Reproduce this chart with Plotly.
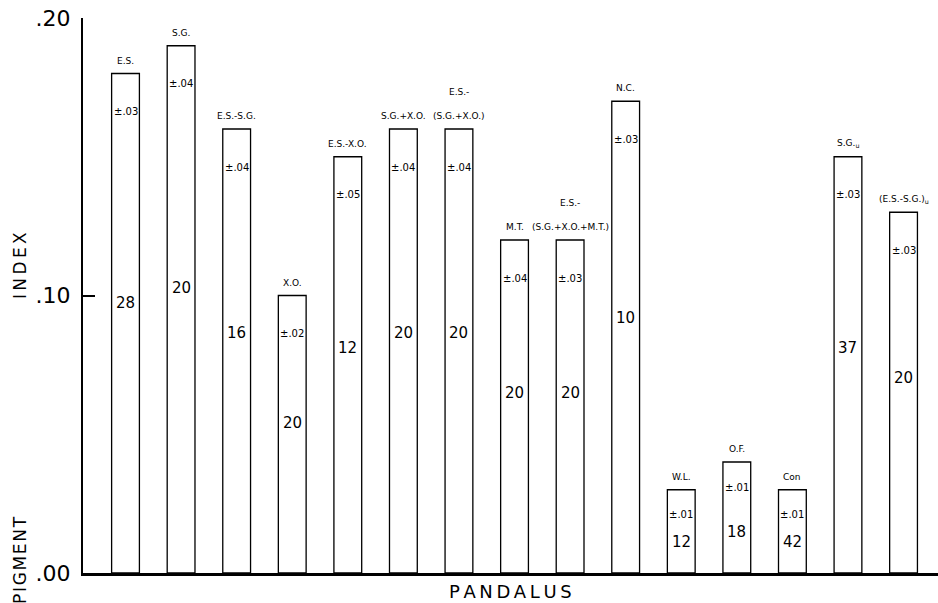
import plotly.graph_objects as go

# ---- data ----
labels_main = ["E.S.", "S.G.", "E.S.-S.G.", "X.O.", "E.S.-X.O.", "S.G.+X.O.",
               "(S.G.+X.O.)", "M.T.", "(S.G.+X.O.+M.T.)", "N.C.", "W.L.", "O.F.",
               "Con", "S.G.<sub>u</sub>", "(E.S.-S.G.)<sub>u</sub>"]
labels_upper = ["", "", "", "", "", "", "E.S.-", "", "E.S.-", "", "", "", "", "", ""]
index_values = [0.18, 0.19, 0.16, 0.10, 0.15, 0.16, 0.16, 0.12, 0.12, 0.17,
                0.03, 0.04, 0.03, 0.15, 0.13]
errors = ["±.03", "±.04", "±.04", "±.02", "±.05", "±.04", "±.04", "±.04", "±.03",
          "±.03", "±.01", "±.01", "±.01", "±.03", "±.03"]
n_values = ["28", "20", "16", "20", "12", "20", "20", "20", "20", "10",
            "12", "18", "42", "37", "20"]
y_ticks = [0.0, 0.10, 0.20]
y_tick_text = [".00", ".10", ".20"]

FONT = "DejaVu Sans"
xs = list(range(len(index_values)))

fig = go.Figure()
fig.add_trace(go.Bar(
    x=xs, y=index_values, width=0.5,
    marker=dict(color="white", line=dict(color="black", width=1.3)),
    hoverinfo="skip", showlegend=False,
))

ann = []
for x, v, lab, up, err, n in zip(xs, index_values, labels_main, labels_upper,
                                  errors, n_values):
    tall = v >= 0.1
    ann.append(dict(x=x, y=v, xref="x", yref="y", text=lab, showarrow=False,
                    yanchor="middle", yshift=13,
                    font=dict(family=FONT, size=9, color="black")))
    if up:
        ann.append(dict(x=x, y=v, xref="x", yref="y", text=up, showarrow=False,
                        yanchor="middle", yshift=37,
                        font=dict(family=FONT, size=9, color="black")))
    ann.append(dict(x=x, y=v, xref="x", yref="y", text=err, showarrow=False,
                    yanchor="middle", yshift=-38 if tall else -25,
                    font=dict(family=FONT, size=10, color="black")))
    ann.append(dict(x=x, y=v * (0.54 if tall else 0.37), xref="x", yref="y",
                    text=n, showarrow=False, yanchor="middle",
                    font=dict(family=FONT, size=15, color="black")))

# axis titles
ann.append(dict(x=0.5, y=0, xref="paper", yref="paper", showarrow=False,
                text="P\u2009A\u2009N\u2009D\u2009A\u2009L\u2009U\u2009S",
                yanchor="middle", yshift=-18,
                font=dict(family=FONT, size=18, color="black")))
ann.append(dict(x=0, y=0.0234, xref="paper", yref="paper", showarrow=False,
                text="P\u200aI\u200aG\u200aM\u200aE\u200aN\u200aT", textangle=-90,
                xanchor="center", yanchor="middle", xshift=-63,
                font=dict(family=FONT, size=17, color="black")))
ann.append(dict(x=0, y=0.553, xref="paper", yref="paper", showarrow=False,
                text="I\u2009N\u2009D\u2009E\u2009X", textangle=-90,
                xanchor="center", yanchor="middle", xshift=-63,
                font=dict(family=FONT, size=17, color="black")))

fig.update_layout(
    width=938, height=603,
    margin=dict(l=83, r=0, t=18, b=30),
    paper_bgcolor="white", plot_bgcolor="white",
    annotations=ann,
    bargap=0.5,
    xaxis=dict(range=[-0.765, 14.62], showline=True, linecolor="black",
               linewidth=2.5, showticklabels=False, ticks="", showgrid=False,
               zeroline=False, fixedrange=True),
    yaxis=dict(range=[0, 0.2], showline=True, linecolor="black", linewidth=2,
               tickvals=y_ticks, ticktext=y_tick_text, ticks="inside",
               ticklen=12, tickwidth=1.5, tickcolor="black",
               ticklabelstandoff=6,
               tickfont=dict(family=FONT, size=22, color="black"),
               showgrid=False, zeroline=False, fixedrange=True),
)

fig.write_html("out.html")
